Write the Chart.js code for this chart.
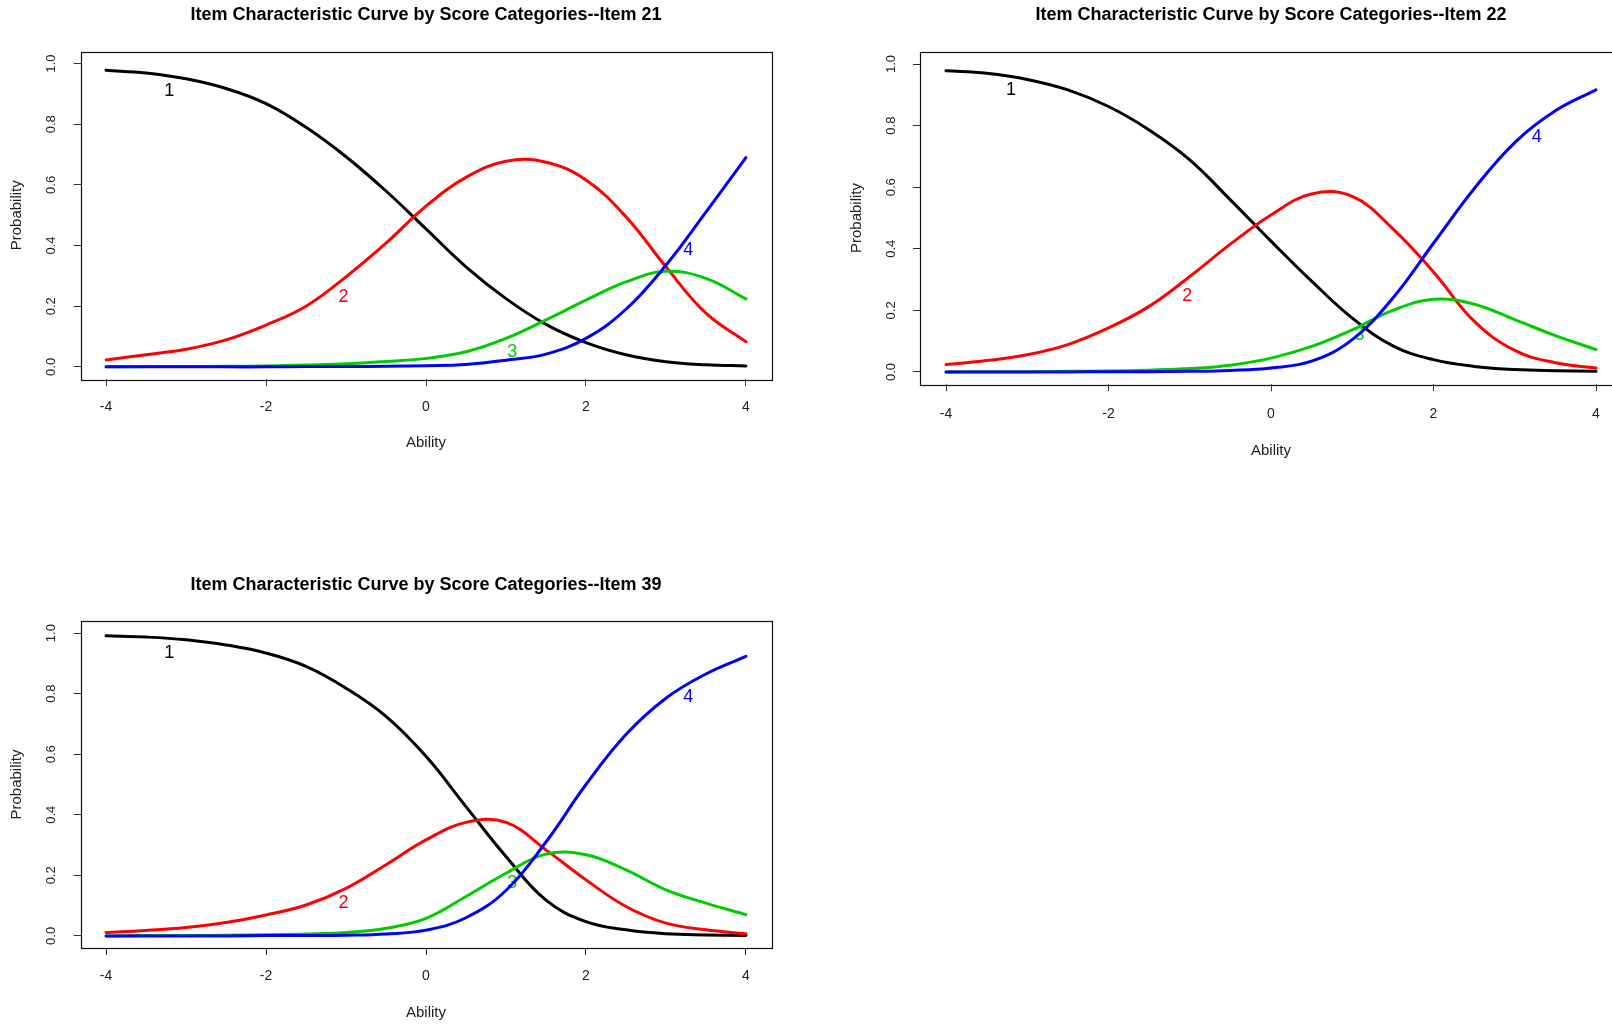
<!DOCTYPE html>
<html>
<head>
<meta charset="utf-8">
<title>Item Characteristic Curves</title>
<script src="https://cdn.jsdelivr.net/npm/chart.js@4.4.1/dist/chart.umd.min.js"></script>
<style>
  html, body {
    margin: 0;
    padding: 0;
    width: 1612px;
    height: 1026px;
    overflow: hidden;
    background: #ffffff;
  }
  canvas {
    position: absolute;
  }
</style>
</head>
<body>

<canvas id="item21Chart"></canvas>
<canvas id="item22Chart"></canvas>
<canvas id="item39Chart"></canvas>

<script>

// =========================
// DATA
// =========================

const abilityPoints = [
  -4, -3.5, -3, -2.5, -2, -1.5, -1, -0.5,
  0, 0.5, 1, 1.5, 2, 2.5, 3, 3.5, 4
];

const xTickValues = [-4, -2, 0, 2, 4];
const yTickValues = [0, 0.2, 0.4, 0.6, 0.8, 1.0];

const categoryNames = ["1", "2", "3", "4"];
const categoryColors = ["#000000", "#ff0000", "#00cd00", "#0000ff"];

// Item 21
const item21Cat1 = [0.978, 0.969, 0.950, 0.918, 0.868, 0.790, 0.693, 0.580, 0.455, 0.330, 0.225, 0.140, 0.080, 0.040, 0.017, 0.007, 0.003];
const item21Cat2 = [0.023, 0.040, 0.058, 0.089, 0.138, 0.200, 0.297, 0.408, 0.530, 0.625, 0.678, 0.675, 0.616, 0.495, 0.330, 0.177, 0.083];
const item21Cat3 = [0.000, 0.001, 0.001, 0.002, 0.003, 0.006, 0.010, 0.018, 0.028, 0.050, 0.094, 0.155, 0.220, 0.280, 0.315, 0.292, 0.224];
const item21Cat4 = [0.000, 0.000, 0.000, 0.000, 0.000, 0.001, 0.001, 0.002, 0.004, 0.008, 0.022, 0.042, 0.094, 0.190, 0.335, 0.510, 0.690];
const item21LabelX = [-3.21, -1.03, 1.08, 3.28];
const item21LabelY = [0.91, 0.231, 0.05, 0.385];

// Item 22
const item22Cat1 = [0.978, 0.970, 0.950, 0.916, 0.862, 0.786, 0.689, 0.559, 0.425, 0.295, 0.175, 0.085, 0.040, 0.018, 0.008, 0.004, 0.002];
const item22Cat2 = [0.024, 0.037, 0.056, 0.089, 0.143, 0.213, 0.310, 0.415, 0.510, 0.578, 0.570, 0.465, 0.325, 0.165, 0.070, 0.030, 0.013];
const item22Cat3 = [0.000, 0.001, 0.001, 0.002, 0.003, 0.006, 0.011, 0.022, 0.045, 0.083, 0.137, 0.200, 0.236, 0.220, 0.170, 0.118, 0.073];
const item22Cat4 = [0.000, 0.000, 0.000, 0.000, 0.001, 0.001, 0.002, 0.005, 0.013, 0.035, 0.105, 0.240, 0.418, 0.595, 0.745, 0.848, 0.916];
const item22LabelX = [-3.2, -1.03, 1.09, 3.27];
const item22LabelY = [0.916, 0.245, 0.12, 0.764];

// Item 39
const item39Cat1 = [0.991, 0.987, 0.978, 0.961, 0.934, 0.890, 0.818, 0.725, 0.593, 0.427, 0.262, 0.118, 0.047, 0.020, 0.007, 0.003, 0.001];
const item39Cat2 = [0.011, 0.018, 0.028, 0.044, 0.069, 0.102, 0.157, 0.235, 0.317, 0.375, 0.375, 0.284, 0.185, 0.097, 0.042, 0.020, 0.007];
const item39Cat3 = [0.000, 0.001, 0.001, 0.002, 0.004, 0.006, 0.011, 0.025, 0.058, 0.130, 0.207, 0.270, 0.268, 0.218, 0.152, 0.108, 0.070];
const item39Cat4 = [0.000, 0.000, 0.000, 0.000, 0.001, 0.001, 0.002, 0.006, 0.019, 0.060, 0.150, 0.310, 0.500, 0.665, 0.785, 0.865, 0.923];
const item39LabelX = [-3.21, -1.03, 1.08, 3.28];
const item39LabelY = [0.935, 0.108, 0.174, 0.79];


// =========================
// COMMON CONFIG
// =========================

const FONT_FAMILY = "'Liberation Sans', Arial, sans-serif";

// R style frame, rotated y tick labels and the curve numbers
const iccDecorations = {

  id: "iccDecorations",

  afterDatasetDraw(chart, args) {
    const opts = chart.options.plugins.iccDecorations;
    const i = args.index;
    const ctx = chart.ctx;

    ctx.save();
    ctx.font = "18px " + FONT_FAMILY;
    ctx.fillStyle = categoryColors[i];
    ctx.textAlign = "center";
    ctx.textBaseline = "middle";
    ctx.fillText(
      categoryNames[i],
      chart.scales.x.getPixelForValue(opts.labelX[i]),
      chart.scales.y.getPixelForValue(opts.labelY[i])
    );
    ctx.restore();
  },

  afterDraw(chart) {
    const ctx = chart.ctx;
    const area = chart.chartArea;
    const yScale = chart.scales.y;

    ctx.save();
    ctx.strokeStyle = "#111";
    ctx.lineWidth = 1.2;
    ctx.strokeRect(
      Math.round(area.left) + 0.5,
      Math.round(area.top) + 0.5,
      Math.round(area.right - area.left),
      Math.round(area.bottom - area.top)
    );

    ctx.font = "13px " + FONT_FAMILY;
    ctx.fillStyle = "#222";
    ctx.textAlign = "center";
    ctx.textBaseline = "middle";

    yTickValues.forEach(v => {
      ctx.save();
      ctx.translate(area.left - 29, yScale.getPixelForValue(v));
      ctx.rotate(-Math.PI / 2);
      ctx.fillText(v.toFixed(1), 0, 0);
      ctx.restore();
    });

    ctx.restore();
  }

};


function buildDatasets(seriesList) {

  return seriesList.map(
    (values, i) => ({
      label: categoryNames[i],
      data: abilityPoints.map(
        (x, j) => ({ x: x, y: values[j] })
      ),
      borderColor: categoryColors[i],
      borderWidth: 3,
      borderCapStyle: "round",
      borderJoinStyle: "round",
      pointRadius: 0,
      tension: 0.4,
      fill: false,
      order: seriesList.length - i
    })
  );

}


// =========================
// ICC PANEL
// =========================

function renderIccChart(canvasId, title, seriesList, labelX, labelY, box) {

  const canvas = document.getElementById(canvasId);

  if (!canvas || typeof Chart === "undefined") return;

  canvas.style.left = box.left + "px";
  canvas.style.top = box.top + "px";
  canvas.width = box.width;
  canvas.height = box.height;

  return new Chart(canvas, {

    type: "line",

    data: {
      datasets: buildDatasets(seriesList)
    },

    options: {

      responsive: false,
      animation: false,
      devicePixelRatio: 1,

      layout: {
        padding: { left: 0, right: box.padRight, top: 0, bottom: 0 }
      },

      plugins: {
        legend: { display: false },
        tooltip: { enabled: false },
        title: {
          display: true,
          text: title,
          fullSize: false,
          color: "#000",
          font: { family: FONT_FAMILY, size: 18, weight: "bold" },
          padding: { top: 4.2, bottom: box.titleGap }
        },
        iccDecorations: {
          labelX: labelX,
          labelY: labelY
        }
      },

      scales: {

        x: {
          type: "linear",
          min: -4.32,
          max: 4.32,
          afterBuildTicks: scale => {
            scale.ticks = xTickValues.map(v => ({ value: v }));
          },
          afterFit: scale => {
            scale.height = box.xAxisHeight;
          },
          border: { display: false },
          grid: {
            drawOnChartArea: false,
            drawTicks: true,
            tickLength: 7,
            tickColor: "#333",
            lineWidth: 1
          },
          ticks: {
            padding: box.xTickPad,
            maxRotation: 0,
            color: "#222",
            font: { family: FONT_FAMILY, size: 14 },
            callback: v => String(v)
          },
          title: {
            display: true,
            text: "Ability",
            color: "#222",
            font: { family: FONT_FAMILY, size: 15 },
            padding: { top: 0, bottom: box.xTitlePad }
          }
        },

        y: {
          type: "linear",
          min: -0.04,
          max: 1.04,
          afterBuildTicks: scale => {
            scale.ticks = yTickValues.map(v => ({ value: v }));
          },
          afterFit: scale => {
            scale.width = box.yAxisWidth;
          },
          border: { display: false },
          grid: {
            drawOnChartArea: false,
            drawTicks: true,
            tickLength: 7,
            tickColor: "#333",
            lineWidth: 1
          },
          ticks: { display: false },
          title: {
            display: true,
            text: "Probability",
            color: "#222",
            font: { family: FONT_FAMILY, size: 15 },
            padding: { top: box.yTitlePad, bottom: 0 }
          }
        }

      }

    },

    plugins: [iccDecorations]

  });

}


// =========================
// MASTER RENDER
// =========================

renderIccChart(
  "item21Chart",
  "Item Characteristic Curve by Score Categories--Item 21",
  [item21Cat1, item21Cat2, item21Cat3, item21Cat4],
  item21LabelX, item21LabelY,
  { left: 0, top: 0, width: 806, height: 460, padRight: 34.5,
    yAxisWidth: 80.5, xAxisHeight: 81, titleGap: 25.7,
    xTickPad: 13, xTitlePad: 8, yTitlePad: 7.5 }
);

renderIccChart(
  "item22Chart",
  "Item Characteristic Curve by Score Categories--Item 22",
  [item22Cat1, item22Cat2, item22Cat3, item22Cat4],
  item22LabelX, item22LabelY,
  { left: 841, top: 0, width: 818, height: 465, padRight: 37,
    yAxisWidth: 79, xAxisHeight: 80.7, titleGap: 25.9,
    xTickPad: 14, xTitlePad: 5, yTitlePad: 7 }
);

renderIccChart(
  "item39Chart",
  "Item Characteristic Curve by Score Categories--Item 39",
  [item39Cat1, item39Cat2, item39Cat3, item39Cat4],
  item39LabelX, item39LabelY,
  { left: 0, top: 570, width: 806, height: 460, padRight: 34.5,
    yAxisWidth: 80.5, xAxisHeight: 82, titleGap: 25.2,
    xTickPad: 13, xTitlePad: 8, yTitlePad: 7.5 }
);

</script>
</body>
</html>
